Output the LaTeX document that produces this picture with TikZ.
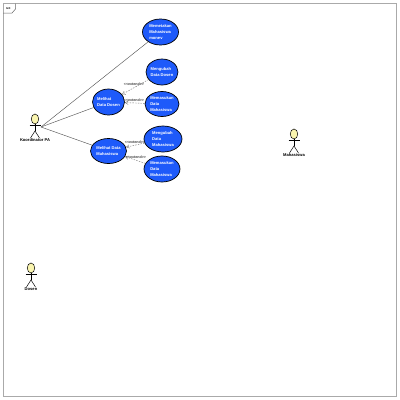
\documentclass[tikz,border=0pt]{standalone}
\usepackage{fontspec}
\setmainfont{Liberation Sans}
\usetikzlibrary{arrows.meta,shapes.geometric}
\definecolor{ucblue}{RGB}{30,90,250}
\definecolor{actorfill}{RGB}{250,245,175}
\definecolor{framegray}{RGB}{170,170,170}
\tikzset{
 uc/.style={draw=black,line width=.7pt,fill=ucblue,ellipse,inner sep=0pt,text=white,font=\fontsize{4.1}{6.2}\selectfont\bfseries,align=left},
 assoc/.style={draw=black!65,line width=.45pt},
 dep/.style={draw=black!55,line width=.4pt,dash pattern=on 1.5pt off 1.2pt,-{Straight Barb[length=3pt,width=3.5pt]}},
 deplabel/.style={font=\fontsize{3.6}{4}\selectfont\bfseries,text=black!75,inner sep=0pt},
 actorlabel/.style={font=\fontsize{4.1}{4.5}\selectfont\bfseries,inner sep=0pt},
 limb/.style={draw=black,line width=.5pt},
 head/.style={draw=black,line width=.5pt,fill=actorfill,ellipse,minimum width=7.5pt,minimum height=10pt,inner sep=0pt}
}
\newcommand{\umlactor}[4]{%
 \node[head] (#1h) at (#2,#3) {};
 \coordinate (#1n) at (#2,#3+5);
 \coordinate (#1w) at (#2,#3+12);
 \coordinate (#1al) at (#2-5.5,#3+6.5);
 \coordinate (#1ar) at (#2+5.5,#3+6.5);
 \coordinate (#1fl) at (#2-4.5,#3+19);
 \coordinate (#1fr) at (#2+4.5,#3+19);
 \draw[limb] (#1n) -- (#1w);
 \draw[limb] (#1al) -- (#1ar);
 \draw[limb] (#1fl) -- (#1w) -- (#1fr);
 \node[actorlabel] (#1l) at (#2,#3+21.5) {#4};
}
\begin{document}
\begin{tikzpicture}[x=1pt,y=-1pt]
\useasboundingbox (0,0) rectangle (400,400);
\fill[white] (0,0) rectangle (400,400);
\node[draw=framegray,line width=.8pt,minimum width=393pt,minimum height=393pt,inner sep=0pt] (frame) at (199.5,200) {};
\coordinate (tabtop) at (15.5,3.5);
\coordinate (tabbr) at (12,13);
\coordinate (tabl) at (3,13);
\draw[black!60,line width=.5pt] (tabtop) -- (15.5,9) -- (tabbr) -- (tabl);
\node[font=\fontsize{3.5}{4}\selectfont\bfseries,inner sep=0pt] (uclabel) at (8.5,8.5) {uc};

\umlactor{koor}{35}{119}{Koordinator PA}
\umlactor{mhs}{294}{134}{Mahasiswa}
\umlactor{dsn}{31}{268}{Dosen}

\node[uc,minimum width=36pt,minimum height=26pt] (petakan) at (160.5,32) {Memetakan\\Mahasiswa\\monev};
\node[uc,minimum width=32pt,minimum height=26pt] (ubahdsn) at (162,72) {Mengubah\\Data Dosen};
\node[uc,minimum width=34pt,minimum height=25pt] (masukdsn) at (162,104) {Memasukan\\Data\\Mahasiswa};
\node[uc,minimum width=32pt,minimum height=26pt] (lihatdsn) at (108.5,102) {Melihat\\Data Dosen};
\node[uc,minimum width=38pt,minimum height=26pt] (ubahmhs) at (163,139) {Mengubah\\Data\\Mahasiswa};
\node[uc,minimum width=36pt,minimum height=26pt] (masukmhs) at (162,169) {Memasukan\\Data\\Mahasiswa};
\node[uc,minimum width=36pt,minimum height=25pt] (lihatmhs) at (108.5,151) {Melihat Data\\Mahasiswa};

\coordinate (koorc) at (41,127);
\draw[assoc] (koorc) -- (petakan);
\draw[assoc] (koorc) -- (lihatdsn);
\draw[assoc] (koorc) -- (lihatmhs);

\draw[dep] (ubahdsn) -- (lihatdsn);
\draw[dep] (masukdsn) -- (lihatdsn);
\draw[dep] (ubahmhs) -- (lihatmhs);
\draw[dep] (masukmhs) -- (lihatmhs);
\node[deplabel] (l1) at (134,84.5) {<{}<extend>{}>};
\node[deplabel] (l2) at (134,100) {<{}<extend>{}>};
\node[deplabel] (l3) at (135,142) {<{}<extend>{}>};
\node[deplabel] (l4) at (136,157.5) {<{}<extend>{}>};
\end{tikzpicture}
\end{document}
